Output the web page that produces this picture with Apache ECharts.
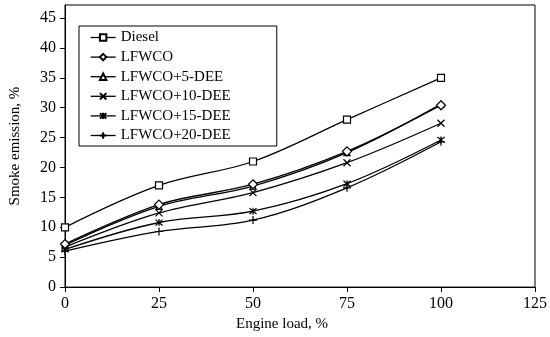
<!DOCTYPE html>
<html><head><meta charset="utf-8">
<script src="https://cdn.jsdelivr.net/npm/echarts@6/dist/echarts.min.js"></script>
<style>html,body{margin:0;padding:0;background:#fff}#c{width:550px;height:337px}</style>
</head><body><div id="c"></div>
<script>
var loads = [0, 25, 50, 75, 100];
var yTicks = [0, 5, 10, 15, 20, 25, 30, 35, 40, 45];
var diesel = [10.0, 17.0, 21.0, 28.0, 35.0];
var lfwco = [7.2, 13.8, 17.2, 22.7, 30.4];
var dee5 = [7.0, 13.5, 16.9, 22.5, 30.6];
var dee10 = [6.7, 12.4, 15.8, 20.8, 27.4];
var dee15 = [6.3, 10.8, 12.7, 17.3, 24.6];
var dee20 = [6.0, 9.3, 11.2, 16.6, 24.3];
var names = ['Diesel', 'LFWCO', 'LFWCO+5-DEE', 'LFWCO+10-DEE', 'LFWCO+15-DEE', 'LFWCO+20-DEE'];

function pts(v) { return loads.map(function (x, i) { return [x, v[i]]; }); }
var font = '"Liberation Serif","Times New Roman",serif';
var syms = [
  {s: 'rect', size: 7, fill: '#fff'},
  {s: 'diamond', size: 9, fill: '#fff'},
  {s: 'triangle', size: 6, fill: '#fff'},
  {s: 'path://M0,0L10,10M10,0L0,10', size: 7, fill: '#000'},
  {s: 'path://M0,0L10,10M10,0L0,10M5,-1L5,11', size: 7, fill: '#000'},
  {s: 'path://M5,0L5,10M0,5L10,5', size: 8, fill: '#000'}
];
var data = [diesel, lfwco, dee5, dee10, dee15, dee20];
var series = data.map(function (v, i) {
  return {
    name: names[i], type: 'line', data: pts(v), smooth: 0.35,
    symbol: syms[i].s, symbolSize: syms[i].size,
    lineStyle: {color: '#000', width: 1.3},
    itemStyle: {color: syms[i].fill, borderColor: '#000', borderWidth: 1.2},
    z: 10 - i
  };
});
var chart = echarts.init(document.getElementById('c'), null, {renderer: 'canvas'});
chart.setOption({
  animation: false,
  backgroundColor: '#fff',
  grid: {left: 61, right: 15, top: 5, bottom: 49, show: true, borderColor: '#000', borderWidth: 1},
  legend: {
    orient: 'vertical', left: 79, top: 26, data: names,
    itemWidth: 25, itemHeight: 8, itemGap: 4.6,
    padding: [4, 46, 3, 11],
    borderColor: '#000', borderWidth: 1, backgroundColor: '#fff',
    textStyle: {fontFamily: font, fontSize: 15, color: '#000'},
    lineStyle: {color: '#000', width: 1.3}
  },
  xAxis: {
    type: 'value', min: 0, max: 125, interval: 25,
    name: 'Engine load, %', nameLocation: 'middle', nameGap: 29,
    nameTextStyle: {fontFamily: font, fontSize: 15, color: '#000', padding: [0, 36, 0, 0]},
    axisLine: {lineStyle: {color: '#000', width: 1}},
    axisTick: {show: true, inside: false, length: 5, lineStyle: {color: '#000'}},
    axisLabel: {fontFamily: font, fontSize: 16, color: '#000', margin: 9},
    splitLine: {show: false}
  },
  yAxis: {
    type: 'value', min: 0, max: 47.17,
    name: 'Smoke emission, %', nameLocation: 'middle', nameGap: 42,
    nameTextStyle: {fontFamily: font, fontSize: 15, color: '#000'},
    axisLine: {show: true, lineStyle: {color: '#000', width: 1}},
    axisTick: {show: true, inside: false, length: 5, lineStyle: {color: '#000'}, customValues: yTicks},
    axisLabel: {fontFamily: font, fontSize: 16, color: '#000', margin: 9, customValues: yTicks},
    splitLine: {show: false}
  },
  series: series
});
</script></body></html>
